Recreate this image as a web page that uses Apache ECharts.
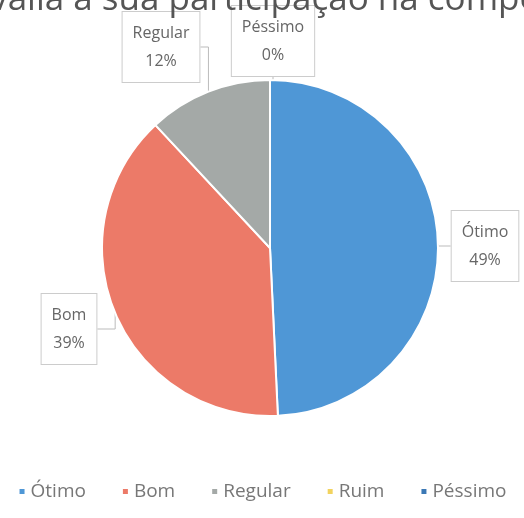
<!DOCTYPE html>
<html>
<head>
<meta charset="utf-8">
<script src="https://cdn.jsdelivr.net/npm/echarts@6/dist/echarts.min.js"></script>
<style>
  html, body { margin: 0; padding: 0; background: #fff; }
  #main { width: 524px; height: 518px; }
</style>
</head>
<body>
<div id="main"></div>
<script>
// categorias e valores (respostas)
var categorias = ['Ótimo', 'Bom', 'Regular', 'Ruim', 'Péssimo'];
var respostas = [33, 26, 8, 0, 0];
var cores = ['#4f97d6', '#ec7a68', '#a4a9a7', '#f2d35f', '#3b78b5'];
var titulo = 'Como você avalia a sua participação na competição?';

// posição das caixas de rótulo
var posRotulos = [
    [485, 246],
    [69, 329],
    [161, 47],
    null,
    [273, 41]
];

var myChart = echarts.init(document.getElementById('main'));

var dados = [];
for (var i = 0; i < categorias.length; i++) {
    dados.push({
        name: categorias[i],
        value: respostas[i],
        label: { show: posRotulos[i] !== null }
    });
}

var option = {
    color: cores,
    title: {
        text: titulo,
        left: -224,
        top: -22,
        textStyle: {
            fontFamily: 'Open Sans',
            fontSize: 35,
            fontWeight: 'normal',
            color: '#555'
        }
    },
    legend: {
        data: categorias,
        bottom: 12,
        left: 'center',
        icon: 'rect',
        itemWidth: 7,
        itemHeight: 7,
        itemGap: 35,
        textStyle: {
            fontFamily: 'Open Sans',
            fontSize: 19,
            color: '#777'
        }
    },
    series: [
        {
            type: 'pie',
            center: [270, 248],
            radius: 168,
            startAngle: 90,
            clockwise: true,
            percentPrecision: 0,
            avoidLabelOverlap: false,
            itemStyle: {
                borderColor: '#fff',
                borderWidth: 2
            },
            label: {
                formatter: '{b}\n{d}%',
                fontFamily: 'Open Sans',
                fontSize: 16,
                lineHeight: 28,
                color: '#666',
                align: 'center',
                backgroundColor: '#fff',
                borderColor: '#ccc',
                borderWidth: 1,
                padding: [7, 10]
            },
            labelLine: {
                show: true,
                lineStyle: { color: '#bbb', width: 1 }
            },
            labelLayout: function (p) {
                var pos = posRotulos[p.dataIndex];
                if (!pos) return {};
                return {
                    x: pos[0],
                    y: pos[1],
                    align: 'center',
                    verticalAlign: 'middle'
                };
            },
            data: dados
        }
    ]
};

myChart.setOption(option);
</script>
</body>
</html>
